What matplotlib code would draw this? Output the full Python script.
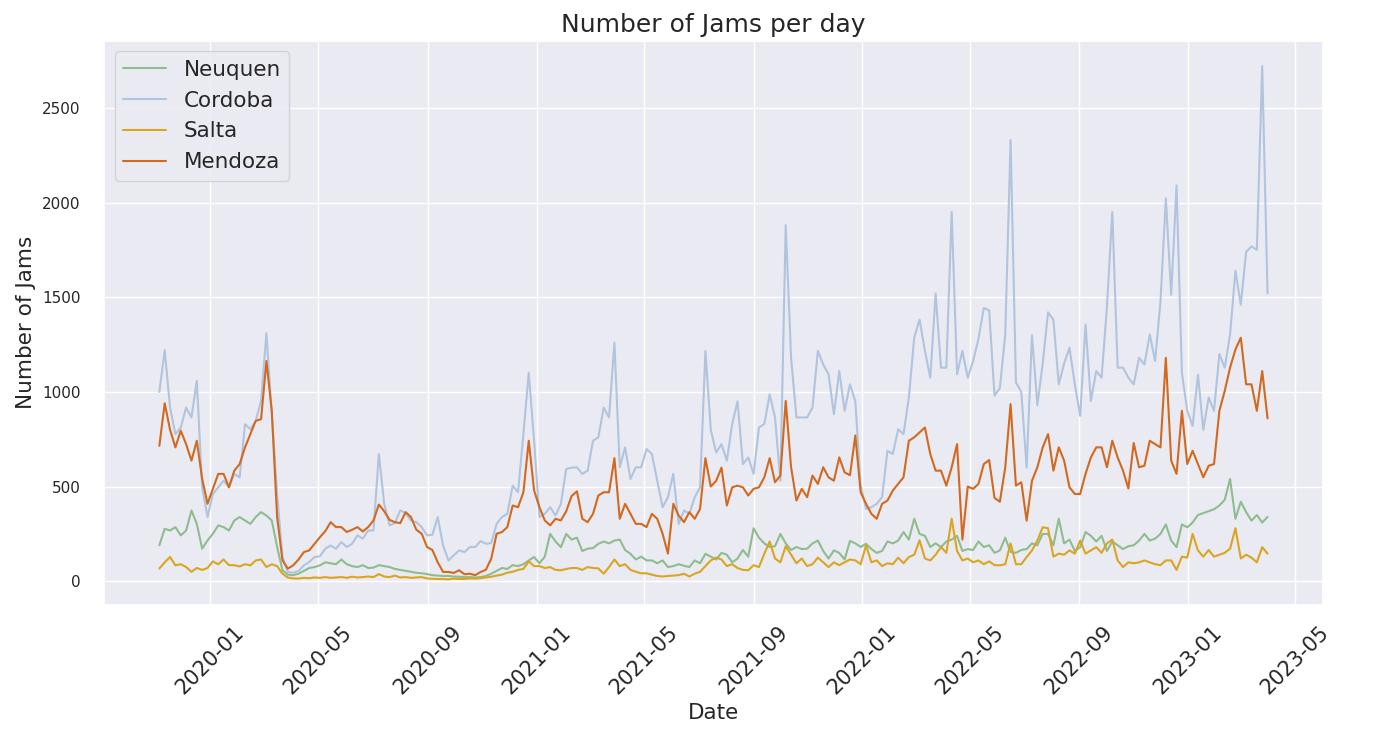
import numpy as np
import pandas as pd
import seaborn as sns
import matplotlib
matplotlib.use("Agg")
from matplotlib import pyplot as plt
import matplotlib.dates as mdates

# Values, one sample every 6 days starting 2019-11-05
start_date = "2019-11-05"
step = "6D"

neuquen = [
    190, 277, 268, 286, 242, 268, 374, 303, 172, 216, 251, 295, 286, 268, 321, 339,
    321, 303, 339, 365, 347, 321, 181, 58, 35, 32, 40, 55, 70, 75, 84, 100,
    95, 90, 115, 90, 80, 75, 85, 70, 72, 85, 80, 75, 65, 60, 55, 50,
    45, 42, 38, 32, 30, 28, 28, 25, 24, 22, 22, 20, 22, 28, 40, 55,
    70, 65, 85, 80, 90, 110, 128, 95, 130, 250, 210, 180, 250, 220, 230, 160,
    172, 175, 198, 210, 200, 215, 220, 165, 145, 115, 130, 110, 110, 95, 110, 75,
    80, 90, 82, 75, 110, 95, 145, 130, 115, 150, 140, 100, 120, 165, 130, 280,
    230, 200, 181, 185, 250, 200, 165, 181, 170, 172, 200, 215, 160, 120, 163, 150,
    115, 213, 200, 181, 198, 170, 150, 160, 210, 200, 215, 260, 220, 330, 250, 240,
    181, 200, 181, 210, 220, 240, 160, 170, 165, 210, 181, 190, 150, 163, 230, 155,
    150, 165, 170, 200, 190, 250, 250, 190, 330, 200, 220, 160, 180, 260, 240, 210,
    240, 160, 210, 190, 170, 185, 190, 215, 250, 215, 225, 250, 300, 215, 180, 300,
    285, 310, 350, 360, 370, 380, 400, 430, 540, 330, 420, 365, 320, 350, 310, 340,
]

cordoba = [
    1000, 1220, 917, 777, 812, 917, 865, 1058, 496, 339, 461, 496, 531, 496, 567, 549,
    830, 803, 847, 952, 1310, 882, 461, 128, 49, 45, 54, 84, 102, 128, 132, 172,
    189, 172, 207, 181, 198, 242, 225, 268, 268, 672, 409, 295, 307, 374, 360, 321,
    312, 286, 242, 246, 339, 189, 110, 137, 163, 154, 181, 181, 212, 198, 202, 303,
    339, 356, 505, 470, 777, 1101, 740, 339, 356, 391, 347, 409, 593, 600, 602, 567,
    584, 742, 760, 917, 865, 1260, 602, 707, 540, 602, 602, 698, 672, 531, 391, 444,
    567, 303, 374, 356, 444, 496, 1216, 800, 680, 724, 637, 830, 950, 619, 654, 567,
    812, 830, 987, 865, 531, 1880, 1180, 865, 865, 865, 917, 1216, 1145, 1093, 882, 1110,
    900, 1040, 950, 505, 382, 391, 409, 444, 689, 672, 803, 777, 970, 1286, 1382, 1216,
    1075, 1520, 1128, 1128, 1950, 1093, 1216, 1075, 1163, 1280, 1443, 1430, 980, 1020, 1300, 2330,
    1050, 1000, 600, 1300, 930, 1150, 1420, 1380, 1040, 1150, 1233, 1040, 873, 1356, 952, 1110,
    1075, 1450, 1950, 1128, 1128, 1075, 1040, 1180, 1145, 1303, 1163, 1478, 2022, 1513, 2090, 1100,
    900, 820, 1090, 800, 970, 900, 1200, 1128, 1303, 1640, 1460, 1740, 1768, 1750, 2720, 1520,
]

salta = [
    67, 100, 128, 84, 90, 75, 50, 70, 60, 70, 105, 90, 115, 85, 85, 78,
    90, 84, 110, 115, 75, 90, 80, 40, 20, 15, 14, 18, 16, 20, 18, 22,
    18, 20, 22, 18, 24, 20, 22, 25, 22, 38, 25, 22, 30, 20, 22, 18,
    20, 22, 15, 13, 12, 12, 10, 14, 12, 12, 15, 14, 16, 20, 24, 30,
    35, 45, 50, 60, 65, 105, 80, 80, 70, 75, 60, 58, 65, 70, 70, 60,
    75, 70, 68, 40, 75, 115, 80, 90, 60, 50, 42, 42, 35, 28, 25, 28,
    30, 32, 40, 25, 40, 50, 80, 110, 125, 115, 80, 90, 70, 60, 58, 85,
    75, 145, 210, 120, 100, 185, 140, 95, 120, 80, 90, 125, 100, 75, 100, 85,
    100, 115, 110, 90, 190, 100, 110, 80, 95, 90, 125, 95, 128, 140, 216, 120,
    110, 140, 181, 150, 330, 160, 110, 120, 100, 110, 90, 105, 85, 84, 90, 200,
    90, 90, 128, 163, 215, 285, 280, 130, 146, 140, 163, 146, 215, 146, 163, 180,
    150, 200, 220, 110, 75, 100, 95, 100, 110, 100, 90, 85, 110, 110, 60, 130,
    125, 250, 163, 130, 165, 130, 140, 150, 172, 280, 120, 140, 125, 100, 180, 146,
]

mendoza = [
    715, 940, 800, 707, 795, 724, 637, 742, 540, 409, 488, 567, 567, 496, 584, 619,
    707, 777, 847, 856, 1163, 900, 339, 110, 67, 84, 115, 154, 163, 198, 233, 265,
    312, 286, 286, 260, 272, 286, 263, 286, 321, 405, 370, 324, 312, 307, 365, 339,
    272, 251, 181, 165, 100, 49, 49, 44, 58, 37, 40, 32, 49, 61, 120, 251,
    260, 286, 400, 391, 470, 742, 479, 391, 321, 295, 330, 321, 370, 450, 475, 330,
    312, 356, 453, 470, 470, 650, 330, 409, 356, 303, 303, 286, 356, 330, 251, 146,
    409, 347, 312, 365, 330, 382, 650, 500, 530, 600, 400, 496, 505, 496, 453, 488,
    496, 549, 650, 523, 558, 952, 602, 426, 488, 444, 558, 514, 602, 549, 531, 654,
    575, 560, 770, 470, 409, 356, 330, 409, 426, 479, 514, 549, 742, 760, 786, 812,
    672, 584, 584, 505, 602, 724, 220, 500, 488, 514, 619, 640, 440, 420, 600, 935,
    505, 523, 320, 531, 602, 707, 777, 584, 707, 637, 496, 461, 461, 567, 654, 707,
    707, 602, 742, 654, 584, 490, 730, 602, 610, 742, 724, 707, 1180, 637, 567, 900,
    619, 689, 619, 549, 610, 619, 900, 1005, 1128, 1224, 1286, 1040, 1040, 900, 1110, 860,
]

dates = pd.date_range(start_date, periods=len(cordoba), freq=step)
df = pd.DataFrame({"Neuquen": neuquen, "Cordoba": cordoba,
                   "Salta": salta, "Mendoza": mendoza}, index=dates)

colors = {"Neuquen": "darkseagreen", "Cordoba": "lightsteelblue",
          "Salta": "goldenrod", "Mendoza": "chocolate"}

sns.set_theme(style="darkgrid")

fig, ax = plt.subplots(figsize=(13.84, 7.42), dpi=100)
fig.subplots_adjust(left=0.0751, right=0.9559, bottom=0.1846, top=0.9454)

for name in ["Neuquen", "Cordoba", "Salta", "Mendoza"]:
    ax.plot(df.index, df[name], color=colors[name], label=name, linewidth=1.5)

ax.xaxis.set_major_locator(mdates.MonthLocator(bymonth=[1, 5, 9]))
ax.xaxis.set_major_formatter(mdates.DateFormatter("%Y-%m"))
plt.xticks(rotation=45, fontsize=15)
plt.yticks(fontsize=11)
ax.tick_params(axis="y", pad=11)
ax.tick_params(axis="x", pad=6)

ax.set_title("Number of Jams per day", fontsize=18)
ax.set_xlabel("Date", fontsize=15.5)
ax.set_ylabel("Number of Jams", fontsize=15.5)
ax.legend(loc="upper left", fontsize=15.5)

plt.savefig("out.png", dpi=100)
